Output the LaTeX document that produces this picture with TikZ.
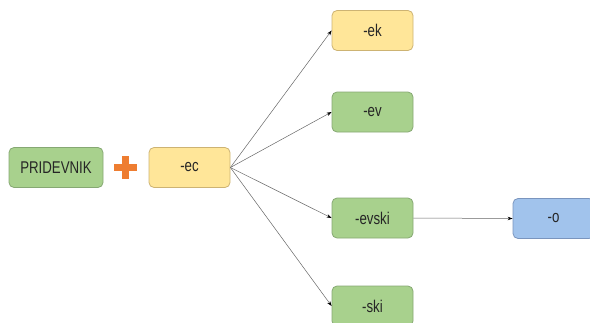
\documentclass[tikz,border=0pt]{standalone}
\usepackage{fontspec}
\setmainfont{Liberation Sans}
\usetikzlibrary{arrows.meta}
\definecolor{gfill}{HTML}{A8D18D}
\definecolor{gdraw}{HTML}{86A873}
\definecolor{yfill}{HTML}{FFE699}
\definecolor{ydraw}{HTML}{CDB373}
\definecolor{bfill}{HTML}{A1C3EC}
\definecolor{bdraw}{HTML}{7A95BE}
\definecolor{plusc}{HTML}{EE7D31}
\definecolor{edgec}{HTML}{666666}
\newcommand{\cond}[1]{\scalebox{0.78}[1]{#1}}
\tikzset{
  box/.style={rounded corners=5pt, line width=0.8pt, minimum width=81pt, minimum height=40pt, inner sep=0pt, font=\fontsize{17}{20}\selectfont, text=black!85},
  gbox/.style={box, fill=gfill, draw=gdraw},
  ybox/.style={box, fill=yfill, draw=ydraw},
  bbox/.style={box, fill=bfill, draw=bdraw},
  conn/.style={draw=edgec, line width=0.5pt, -{Stealth[length=5pt,width=3.5pt,color=black]}}
}
\begin{document}
\begin{tikzpicture}[x=1pt,y=-1pt]
\useasboundingbox (0,0) rectangle (590,322);
\node[gbox, minimum width=94pt] (pri) at (56,167.5) {\cond{PRIDEVNIK}};
\node[ybox] (ec) at (189.5,167.5) {\cond{-ec}};
\node[ybox] (ek) at (372.5,30.5) {\cond{-ek}};
\node[gbox] (ev) at (372.5,112) {\cond{-ev}};
\node[gbox] (evski) at (372.5,218) {\cond{-evski}};
\node[gbox] (ski) at (372.5,306) {\cond{-ski}};
\node[bbox] (o) at (553.5,218.5) {\cond{-o}};
\node[fill=plusc, minimum width=23pt, minimum height=7.5pt, inner sep=0pt] (plush) at (125.5,167.5) {};
\node[fill=plusc, minimum width=7.5pt, minimum height=23pt, inner sep=0pt] (plusv) at (125.5,167.5) {};
\draw[conn] (ec.east) -- (ek.west);
\draw[conn] (ec.east) -- (ev.west);
\draw[conn] (ec.east) -- (evski.west);
\draw[conn] (ec.east) -- (ski.west);
\draw[conn] (evski.east) -- (o.west);
\end{tikzpicture}
\end{document}
